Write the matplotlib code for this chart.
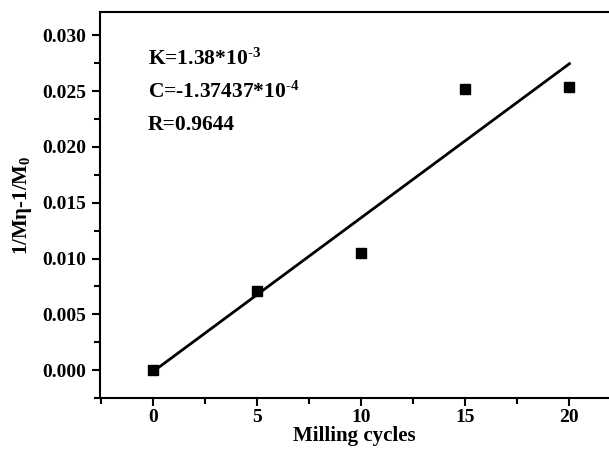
import numpy as np
import matplotlib
matplotlib.use('Agg')
import matplotlib.pyplot as plt
from matplotlib.ticker import MultipleLocator

# data
cycles = [0, 5, 10, 15, 20]
inv_m = [0.0, 0.0071, 0.0105, 0.0252, 0.0254]
K = 1.38e-3
C = -1.37437e-4

plt.rcParams['font.family'] = 'Liberation Serif'
plt.rcParams['font.weight'] = 'bold'
plt.rcParams['mathtext.fontset'] = 'custom'
plt.rcParams['mathtext.rm'] = 'Liberation Serif:bold'
plt.rcParams['mathtext.it'] = 'Liberation Serif:bold'
plt.rcParams['mathtext.bf'] = 'Liberation Serif:bold'

fig = plt.figure(figsize=(6.09, 4.51), dpi=100)
ax = fig.add_axes([0.164, 0.1175, 0.836, 0.856])

fit_x = np.array([cycles[0], cycles[-1]])
ax.plot(fit_x, K * fit_x + C, color='black', lw=2)
ax.plot(cycles, inv_m, 's', color='black', ms=7)

ax.set_xlim(-2.55, 21.9)
ax.set_ylim(-0.0025, 0.0321)
ax.xaxis.set_major_locator(MultipleLocator(5))
ax.xaxis.set_minor_locator(MultipleLocator(2.5))
ax.yaxis.set_major_locator(MultipleLocator(0.005))
ax.yaxis.set_minor_locator(MultipleLocator(0.0025))
ax.yaxis.set_major_formatter(plt.FormatStrFormatter('%.3f'))
ax.tick_params(which='major', direction='out', length=6, width=1.5, labelsize=14, pad=4)
ax.tick_params(axis='x', which='major', pad=2)
ax.tick_params(which='minor', direction='out', length=4, width=1.5)
ax.spines['right'].set_visible(False)
for s in ['left', 'top', 'bottom']:
    ax.spines[s].set_linewidth(1.5)

ax.set_xlabel('Milling cycles', fontsize=15, fontweight='bold', labelpad=0)
ax.set_ylabel('1/M\u03b7-1/M$_0$', fontsize=15, fontweight='bold', labelpad=6)

ax.text(0.094, 0.878, r'K=1.38*10$^{\text{-}3}$', transform=ax.transAxes, fontsize=15.5, va='center')
ax.text(0.094, 0.793, r'C=-1.37437*10$^{\text{-}4}$', transform=ax.transAxes, fontsize=15.5, va='center')
ax.text(0.094, 0.707, 'R=0.9644', transform=ax.transAxes, fontsize=15.5, va='center')

fig.savefig('out.png', dpi=100)
